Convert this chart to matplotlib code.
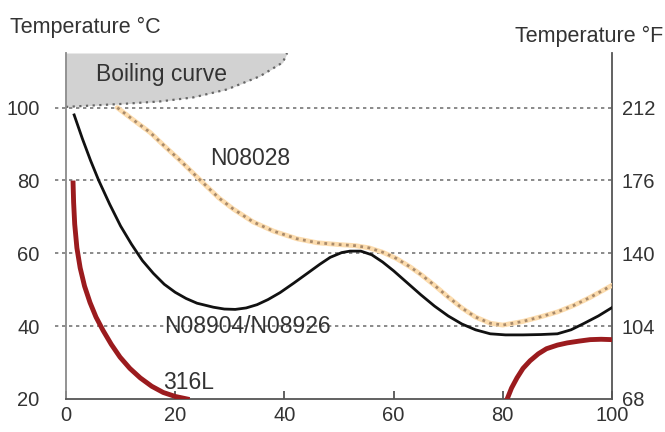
import matplotlib.pyplot as plt

plt.rcParams['font.family'] = ['Liberation Sans', 'DejaVu Sans']

# H2SO4 concentration (x) vs temperature in degC (y)
boil_x = [0, 5, 11.2, 17.2, 23.3, 29.5, 35.5, 39.7, 40.5]
boil_t = [100.2, 100.6, 101.1, 101.7, 102.8, 105, 108.6, 112.4, 115]

n08904_x = [1.5, 3, 4.5, 6, 8, 10, 12, 14, 16, 18, 20, 22, 24, 27, 29, 31, 33, 35,
            37, 39.2, 41.7, 44.2, 46.5, 48.4, 50.5, 52, 54, 56, 58, 60, 62.5, 65,
            67.5, 70, 72.5, 75, 77.7, 80.5, 83.7, 87, 90, 92.5, 94.8, 97.5, 100]
n08904_t = [98, 91.5, 85.5, 80, 73.5, 67.5, 62.5, 58, 54.5, 51.5, 49.3, 47.6, 46.3, 45.2,
            44.7, 44.6, 45, 45.9, 47.3, 49.2, 51.8, 54.5, 57, 58.9, 60.2, 60.6, 60.6,
            59.6, 57.6, 55.2, 51.9, 48.6, 45.5, 42.8, 40.6, 39, 37.9, 37.6, 37.6, 37.7,
            37.9, 39, 40.7, 42.8, 45.1]

n08028_x = [9.4, 12, 15.4, 18, 20.9, 25, 28, 30.6, 34.3, 38, 42.3, 46, 50, 53, 55.5,
            58, 60.5, 63, 65, 67.5, 70, 72.5, 75, 77.7, 80, 83.7, 87, 90, 93, 96, 100]
n08028_t = [100, 97, 93.2, 89.5, 85.5, 79.5, 75.2, 72.2, 68.6, 66.1, 64, 62.9, 62.4,
            62.1, 61.5, 60.3, 58.6, 56.3, 54.2, 51.2, 48, 45, 42.5, 40.8, 40.3, 41.3,
            42.6, 43.9, 45.7, 47.9, 51.2]

ss316_left_x = [1.3, 1.4, 1.6, 2.0, 2.6, 3.4, 4.4, 5.5, 6.8, 8.3, 9.9, 11.7, 13.6,
                15.7, 17.8, 20, 22.2]
ss316_left_t = [79.3, 74, 68, 61.5, 56, 51, 46.5, 42.5, 38.8, 35, 31.5, 28.4,
                25.8, 23.5, 21.8, 20.7, 20]
ss316_right_x = [80.8, 81.6, 82.6, 83.7, 85, 86.5, 88, 90, 91.8, 94, 96, 98, 100]
ss316_right_t = [20, 23, 25.8, 28.4, 30.5, 32.4, 33.8, 34.8, 35.4, 35.9, 36.3, 36.4, 36.3]

grid_levels = [40, 60, 80, 100]
x_ticks = [0, 20, 40, 60, 80, 100]
c_ticks = [20, 40, 60, 80, 100]
f_ticks = [68, 104, 140, 176, 212]

txt = '#333333'
fs = 14.5
fs_lab = 16.5

fig = plt.figure(figsize=(6.65, 4.32), dpi=100)
ax = fig.add_axes([0.0992, 0.0764, 0.8211, 0.8009])
ax.set_xlim(0, 100)
ax.set_ylim(20, 115)

# boiling region
ax.fill_between(boil_x, boil_t, 115, color='#d2d2d2', lw=0, zorder=1)
ax.plot(boil_x, boil_t, color='#666666', lw=1.6, linestyle=(0, (1, 2)), zorder=2)

# dotted grid lines, running a bit past the left spine
ax.hlines(grid_levels, -2, 100, colors='#777777', linestyles=(0, (2, 2.2)), lw=1.2,
          clip_on=False, zorder=2)

# curves
ax.plot(n08028_x, n08028_t, color='#fcdcae', lw=3.5, solid_capstyle='round', zorder=3)
ax.plot(n08028_x, n08028_t, color='#a98a6a', lw=2, linestyle=(0, (1, 1.6)), zorder=4)
ax.plot(n08904_x, n08904_t, color='#111111', lw=2, zorder=5)
ax.plot(ss316_left_x, ss316_left_t, color='#9b1b1e', lw=3.5, zorder=5)
ax.plot(ss316_right_x, ss316_right_t, color='#9b1b1e', lw=3.5, zorder=5)

# labels on the chart
ax.text(17.5, 109, 'Boiling curve', fontsize=fs_lab, color=txt, ha='center', va='center', zorder=6)
ax.text(33.7, 86, 'N08028', fontsize=fs_lab, color=txt, ha='center', va='center', zorder=6)
ax.text(33.2, 40, 'N08904/N08926', fontsize=fs_lab, color=txt, ha='center', va='center', zorder=6)
ax.text(22.5, 24.4, '316L', fontsize=fs_lab, color=txt, ha='center', va='center', zorder=6)

# axes styling
ax.spines['top'].set_visible(False)
ax.spines['left'].set_color('#8a8a8a')
ax.spines['bottom'].set_color('#555555')
ax.spines['right'].set_color('#555555')
for s in ['left', 'bottom', 'right']:
    ax.spines[s].set_linewidth(1.3)

ax.set_xticks(x_ticks)
ax.set_xticklabels([str(v) for v in x_ticks])
ax.tick_params(axis='x', direction='in', length=6, width=1.3, color='#555555',
               labelsize=fs, labelcolor=txt, pad=5)
ax.set_yticks(c_ticks)
ax.set_yticklabels([str(v) for v in c_ticks])
ax.tick_params(axis='y', length=0, labelsize=fs, labelcolor=txt, pad=19)

ax2 = ax.twinx()
ax2.set_ylim(20 * 1.8 + 32, 115 * 1.8 + 32)
ax2.set_yticks(f_ticks)
ax2.set_yticklabels([str(v) for v in f_ticks])
ax2.tick_params(axis='y', length=0, labelsize=fs, labelcolor=txt, pad=7)
for s in ['top', 'left', 'bottom', 'right']:
    ax2.spines[s].set_visible(False)

fig.text(10 / 665, 1 - 27 / 432, 'Temperature °C', fontsize=15.5, color=txt,
         ha='left', va='center')
fig.text(663 / 665, 1 - 36 / 432, 'Temperature °F', fontsize=15.5, color=txt,
         ha='right', va='center')

fig.savefig('out.png', dpi=100)
